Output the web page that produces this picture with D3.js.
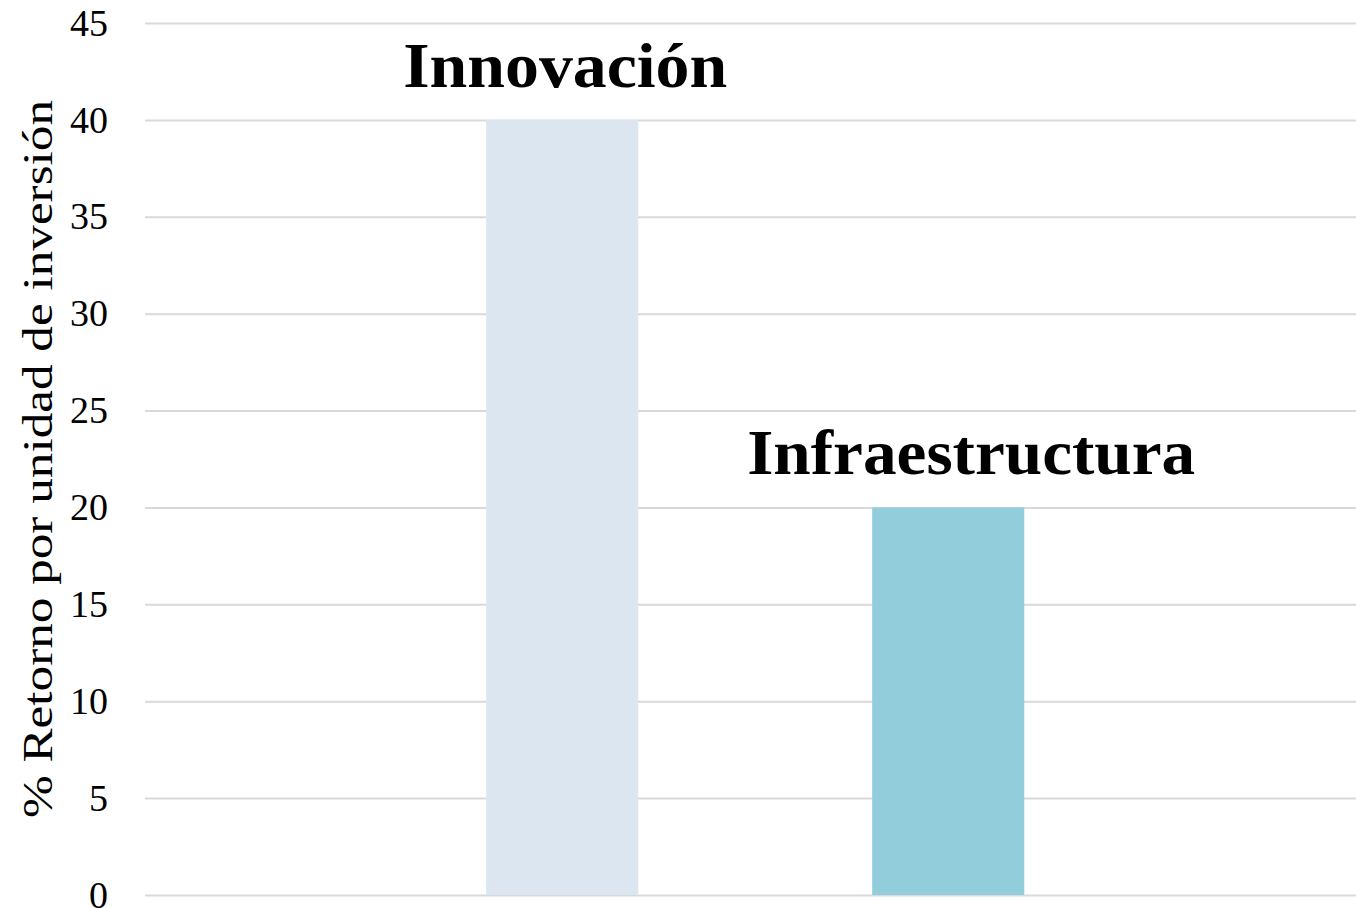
<html>
<head>
	<script src="https://d3js.org/d3.v7.min.js"></script>
	<style>
		body { margin: 0; background: #fff; }
		text { font-family: "Liberation Serif", "DejaVu Serif", serif; }
	</style>
</head>
<body>
	<svg></svg>
</body>
<script type="text/javascript">
	// categories and values
	var categories = ["Innovación", "Infraestructura"];
	var values = [40, 20];
	var colors = ["#dce6f1", "#92cddc"];
	var yTicks = [0, 5, 10, 15, 20, 25, 30, 35, 40, 45];
	var yLabel = "% Retorno por unidad de inversión";

	var width = 1356;
	var height = 908;
	var margin = {
		"left": 145,
		"right": 0,
		"top": 23,
		"bottom": 13
	};

	var svg = d3.select("svg")
		.attr("width", width)
		.attr("height", height);

	var x = d3.scaleBand()
		.domain(categories)
		.range([margin.left, width - margin.right])
		.paddingInner(0.606)
		.paddingOuter(0.8716)
		.align(0.507);

	var y = d3.scaleLinear()
		.domain([0, 45])
		.range([height - margin.bottom, margin.top]);

	// gridlines + tick labels
	var yAxis = d3.axisLeft(y)
		.tickValues(yTicks)
		.tickSize(-(width - margin.left - margin.right))
		.tickPadding(37)
		.tickFormat(d3.format("d"));

	var gy = svg.append("g")
		.attr("transform", "translate(" + margin.left + ",0)")
		.call(yAxis);
	gy.select(".domain").remove();
	gy.selectAll(".tick line")
		.attr("stroke", "#d9d9d9")
		.attr("stroke-width", 2);
	gy.selectAll(".tick text")
		.attr("fill", "#000")
		.style("font-size", "38px")
		.style("font-family", "'Liberation Serif', serif");

	// bars
	svg.selectAll("rect.bar")
		.data(categories)
		.enter().append("rect")
		.attr("class", "bar")
		.attr("x", function(d){ return x(d); })
		.attr("width", x.bandwidth())
		.attr("y", function(d, i){ return y(values[i]); })
		.attr("height", function(d, i){ return y(0) - y(values[i]); })
		.attr("fill", function(d, i){ return colors[i]; });

	// bar labels (placed by hand in the original, second one sits a bit right)
	var labelWidths = [324, 448];
	svg.selectAll("text.barlabel")
		.data(categories)
		.enter().append("text")
		.attr("class", "barlabel")
		.attr("x", function(d, i){ return x(d) + x.bandwidth() / 2 + (i == 1 ? 23 : 3); })
		.attr("y", function(d, i){ return y(values[i]) - 33; })
		.attr("text-anchor", "middle")
		.attr("textLength", function(d, i){ return labelWidths[i]; })
		.attr("lengthAdjust", "spacingAndGlyphs")
		.style("font-size", "63px")
		.style("font-weight", "bold")
		.text(function(d){ return d; });

	// y axis title
	svg.append("text")
		.attr("transform", "translate(52," + ((margin.top + height - margin.bottom) / 2) + ") rotate(-90)")
		.attr("text-anchor", "middle")
		.attr("textLength", 718)
		.attr("lengthAdjust", "spacingAndGlyphs")
		.style("font-size", "42px")
		.text(yLabel);
</script>
</html>
